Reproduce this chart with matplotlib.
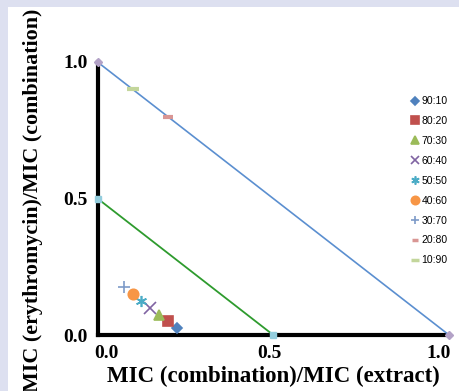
import matplotlib.pyplot as plt
from matplotlib.patches import Rectangle
from matplotlib.transforms import ScaledTranslation

plt.close("all")

# combination ratios (extract : erythromycin)
ratios = ["90:10", "80:20", "70:30", "60:40", "50:50", "40:60", "30:70", "20:80", "10:90"]
x_fic = [0.225, 0.2, 0.175, 0.15, 0.125, 0.1, 0.075, 0.2, 0.1]   # MIC(comb)/MIC(extract)
y_fic = [0.025, 0.05, 0.075, 0.1, 0.125, 0.15, 0.175, 0.8, 0.9]  # MIC(ery)/MIC(comb)

# isobole lines
add_x = [0, 1]
add_y = [1, 0]
syn_x = [0, 0.5]
syn_y = [0.5, 0]

tick_vals = [0, 0.5, 1.0]
tick_labels = ["0.0", "0.5", "1.0"]

markers = ["D", "s", "^", "x", (6, 2, 0), "o", "+", "_", "_"]
colors = ["#4F81BD", "#C0504D", "#9BBB59", "#8064A2", "#4BACC6",
          "#F79646", "#7E9BC8", "#D99694", "#C3D69B"]
sizes = [5.5, 7.5, 7, 8, 8, 7.5, 8, 7, 8]
legend_sizes = [4.5, 6, 5.5, 6, 6, 6, 6, 5, 6]

fig = plt.figure(figsize=(4.59, 3.91), dpi=100)
fig.patch.set_facecolor("#DDE0F0")
fig.patches.append(Rectangle((8 / 459, 0), 1, 1 - 7 / 391, transform=fig.transFigure,
                             facecolor="white", edgecolor="none", zorder=-10))

ax = fig.add_axes([97.5 / 459, 56 / 391, 351.5 / 459, 273 / 391])
ax.set_facecolor("none")

# lines with their end point markers
ax.plot(add_x, add_y, color="#5B8FD0", lw=1.2, marker="D", ms=4,
        mfc="#B3A2C7", mec="#B3A2C7", clip_on=False, zorder=3)
ax.plot(syn_x, syn_y, color="#2E9B2E", lw=1.3, marker="s", ms=5,
        mfc="#93CDDD", mec="#93CDDD", clip_on=False, zorder=3)

handles = []
for i, r in enumerate(ratios):
    m = markers[i]
    mew = 1.2
    if m == "_":
        mew = 3
    ax.plot(x_fic[i], y_fic[i], linestyle="none", marker=m, ms=sizes[i],
            color=colors[i], mew=mew, clip_on=False, zorder=4)
    h, = ax.plot([], [], linestyle="none", marker=m, ms=legend_sizes[i],
                 color=colors[i], mew=mew if m != "_" else 2.5, label=r)
    handles.append(h)

ax.set_xlim(0, 1)
ax.set_ylim(0, 1)
ax.set_xticks(tick_vals)
ax.set_yticks(tick_vals)
ax.set_xticklabels(tick_labels)
ax.set_yticklabels(tick_labels)
for lab in ax.get_xticklabels() + ax.get_yticklabels():
    lab.set_fontfamily("Liberation Serif")
    lab.set_fontweight("bold")
    lab.set_fontsize(14)
ax.tick_params(length=0, pad=7)

# x tick labels sit a little off their ticks in the original
shifts = [9, -4, -10]
for lab, dx in zip(ax.get_xticklabels(), shifts):
    lab.set_transform(lab.get_transform() + ScaledTranslation(dx / 100, 0, fig.dpi_scale_trans))

for s in ["top", "right"]:
    ax.spines[s].set_visible(False)
for s in ["left", "bottom"]:
    ax.spines[s].set_linewidth(3)
    ax.spines[s].set_color("black")

ax.set_xlabel("MIC (combination)/MIC (extract)", fontfamily="Liberation Serif",
              fontweight="bold", fontsize=16.5, labelpad=3)
fig.text(33 / 459, 1 - 200 / 391, "MIC (erythromycin)/MIC (combination)", rotation=90,
         ha="center", va="center", fontfamily="Liberation Serif",
         fontweight="bold", fontsize=15.8)

fig.legend(handles=handles, loc="upper left", bbox_to_anchor=(406 / 459, 1 - 91 / 391),
           frameon=False, prop={"family": "Liberation Sans", "size": 7.5},
           handlelength=0.8, handletextpad=0.2, labelspacing=0.95, borderpad=0)

plt.savefig("out.png", dpi=100)
